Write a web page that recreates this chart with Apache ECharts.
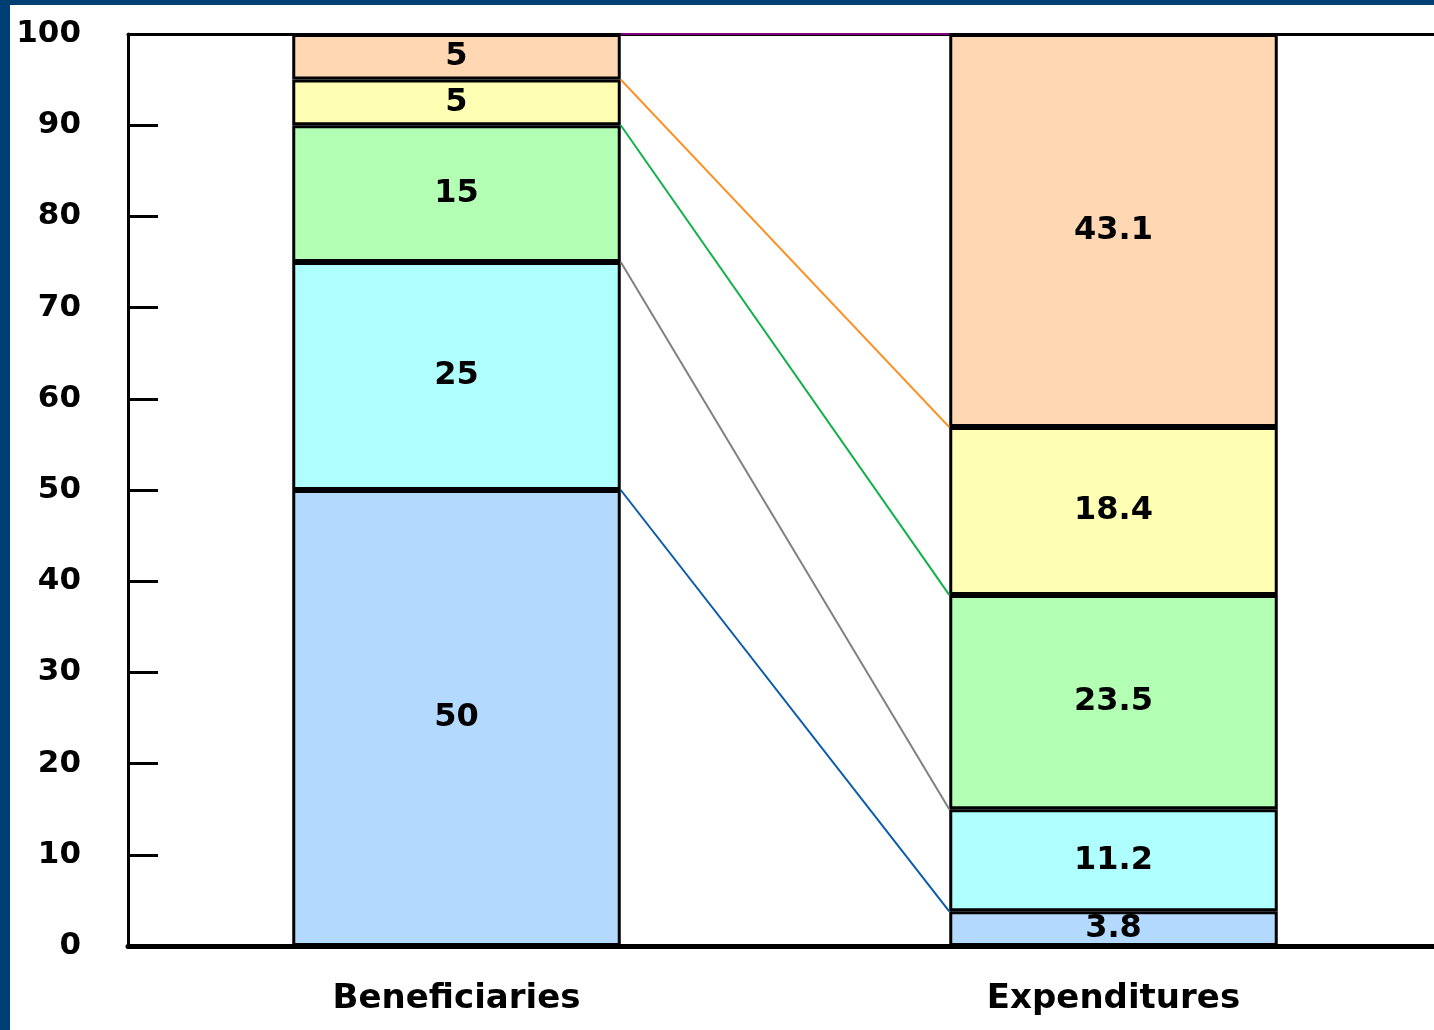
<!DOCTYPE html>
<html>
<head>
<meta charset="utf-8">
<script src="https://cdn.jsdelivr.net/npm/echarts@6/dist/echarts.min.js"></script>
<style>
  html, body { margin: 0; padding: 0; background: #003f74; width: 1434px; height: 1030px; overflow: hidden; }
  #main { position: absolute; left: 10px; top: 5px; width: 1440px; height: 1025px; background: #ffffff; }
</style>
</head>
<body>
<div id="main"></div>
<script>
  // categories on the x axis
  const categories = ['Beneficiaries', 'Expenditures']

  // stacked shares, bottom segment first
  const beneficiaries = [50, 25, 15, 5, 5]
  const expenditures = [3.8, 11.2, 23.5, 18.4, 43.1]

  const segmentColors = ['#b3d9ff', '#b0ffff', '#b3ffb3', '#ffffb3', '#ffd8b3']
  // connector lines between the stack boundaries (50/3.8, 75/15, 90/38.5, 95/56.9, 100/100)
  const connectorColors = ['#0a5aaa', '#808080', '#12b04a', '#ff8c1a', '#800080']

  const yMin = 0
  const yMax = 100
  const yStep = 10

  const font = 'DejaVu Sans'

  let chart = echarts.init(document.getElementById('main'))

  let series = []
  for (let i = 0; i < beneficiaries.length; i++) {
    series.push({
      type: 'bar',
      stack: 'share',
      barWidth: '50%',
      data: [beneficiaries[i], expenditures[i]],
      itemStyle: {
        color: segmentColors[i],
        borderColor: '#000',
        borderWidth: 3
      },
      label: {
        show: true,
        position: 'inside',
        color: '#000',
        fontFamily: font,
        fontWeight: 'bold',
        fontSize: 32,
        formatter: function (p) {
          return p.value
        }
      },
      animation: false
    })
  }

  // cumulative tops of each segment
  let cumB = 0
  let cumE = 0
  for (let i = 0; i < beneficiaries.length; i++) {
    cumB += beneficiaries[i]
    cumE += expenditures[i]
    series.push({
      type: 'line',
      xAxisIndex: 1,
      symbol: 'none',
      silent: true,
      z: 3,
      lineStyle: { color: connectorColors[i], width: 2 },
      // right edge of first bar -> left edge of second bar
      data: [[0.75, Math.round(cumB * 10) / 10], [1.25, Math.round(cumE * 10) / 10]],
      animation: false
    })
  }

  chart.setOption({
    animation: false,
    grid: {
      left: 118,
      top: 29,
      bottom: 84,
      width: 1314
    },
    xAxis: [
      {
        type: 'category',
        position: 'bottom',
        data: categories,
        axisLine: { lineStyle: { color: '#000', width: 5 } },
        axisTick: { show: false },
        axisLabel: {
          color: '#000',
          fontFamily: font,
          fontWeight: 'bold',
          fontSize: 34,
          margin: 36
        }
      },
      {
        type: 'value',
        position: 'top',
        min: 0,
        max: 2,
        axisLine: { show: true, onZero: false, lineStyle: { color: '#000', width: 3 } },
        axisTick: { show: false },
        axisLabel: { show: false },
        splitLine: { show: false }
      }
    ],
    yAxis: {
      type: 'value',
      min: yMin,
      max: yMax,
      interval: yStep,
      axisLine: { show: true, lineStyle: { color: '#000', width: 3 } },
      axisTick: { show: true, inside: true, length: 30, lineStyle: { color: '#000', width: 3 } },
      splitLine: { show: false },
      axisLabel: {
        color: '#000',
        fontFamily: font,
        fontWeight: 'bold',
        fontSize: 31,
        margin: 47
      }
    },
    series: series
  })
</script>
</body>
</html>
